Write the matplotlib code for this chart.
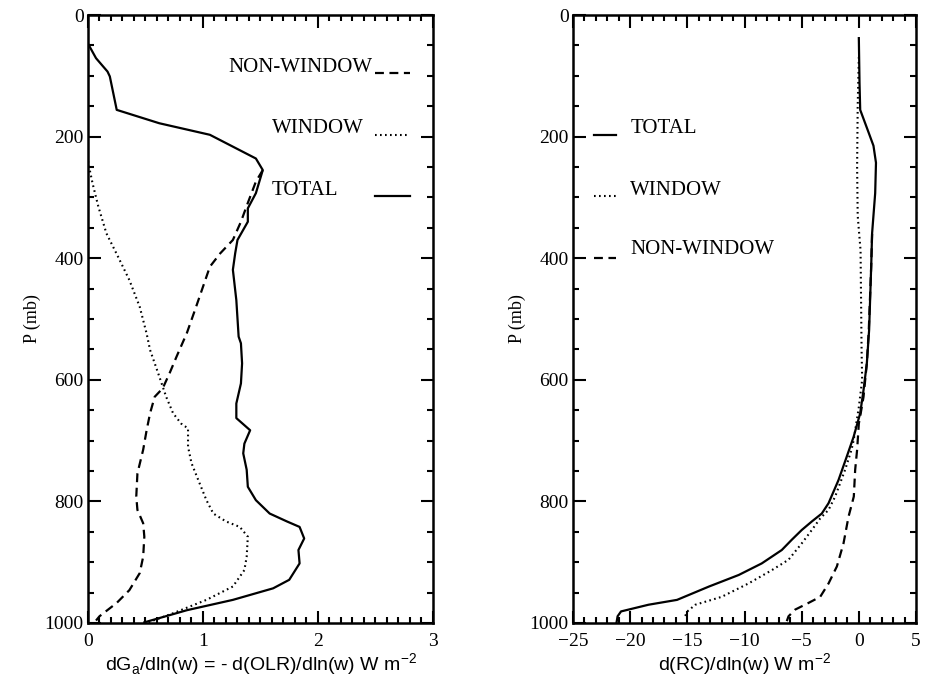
import numpy as np
import matplotlib
matplotlib.use("Agg")
import matplotlib.pyplot as plt
from matplotlib.ticker import MultipleLocator

# ---- left panel: dGa/dln(w) profiles (x value, pressure mb) ----
left_total_x = [0.0, 0.07, 0.17, 0.19, 0.25, 0.62, 1.06, 1.46, 1.52, 1.46,
                1.39, 1.39, 1.30, 1.28, 1.26, 1.29, 1.31, 1.33, 1.34, 1.33,
                1.29, 1.29, 1.41, 1.36, 1.35, 1.38, 1.39, 1.46, 1.58, 1.73,
                1.84, 1.88, 1.83, 1.84, 1.75, 1.61, 1.26, 0.86, 0.49]
left_total_p = [47, 71, 93, 101, 156, 178, 197, 236, 255, 293,
                318, 340, 370, 392, 419, 469, 529, 540, 573, 606,
                639, 663, 683, 705, 721, 748, 776, 798, 820, 833,
                842, 861, 880, 902, 929, 943, 962, 979, 999]

left_nonwin_x = [1.52, 1.46, 1.39, 1.33, 1.26, 1.15, 1.06, 1.00, 0.94, 0.86,
                 0.77, 0.71, 0.65, 0.58, 0.54, 0.51, 0.48, 0.43, 0.42, 0.43,
                 0.48, 0.49, 0.48, 0.45, 0.36, 0.25, 0.10, 0.07]
left_nonwin_p = [255, 274, 309, 340, 370, 392, 414, 447, 480, 523,
                 562, 589, 614, 628, 655, 683, 715, 754, 792, 814,
                 836, 858, 891, 918, 946, 967, 989, 996]

left_win_x = [0.0, 0.01, 0.04, 0.09, 0.16, 0.26, 0.36, 0.45, 0.51, 0.54,
              0.61, 0.68, 0.74, 0.81, 0.87, 0.87, 0.90, 0.97, 1.03, 1.09,
              1.20, 1.32, 1.39, 1.38, 1.36, 1.26, 1.03, 0.74, 0.51]
left_win_p = [240, 250, 277, 315, 359, 397, 436, 480, 524, 551,
              589, 628, 655, 672, 680, 710, 737, 770, 798, 820,
              833, 842, 858, 891, 913, 940, 962, 984, 1000]

# ---- right panel: d(RC)/dln(w) profiles ----
right_total_x = [0.0, 0.06, 0.12, 0.87, 1.28, 1.50, 1.43, 1.16, 1.08, 0.90,
                 0.70, 0.41, 0.12, -0.46, -1.05, -1.78, -2.65, -3.24, -4.11, -4.99,
                 -5.86, -6.74, -8.49, -10.5, -13.1, -15.9, -18.4, -20.8, -21.1, -21.2]
right_total_p = [38, 112, 156, 194, 215, 243, 293, 359, 414, 518,
                 573, 617, 655, 694, 726, 765, 803, 820, 833, 847,
                 863, 880, 902, 921, 940, 962, 970, 981, 989, 1000]

right_win_x = [0.0, -0.1, -0.15, -0.1, 0.15, 0.24, 0.29, 0.0, -0.45, -0.64,
               -1.2, -2.07, -2.65, -3.38, -4.11, -4.99, -6.15, -7.6, -9.65, -12.0,
               -14.3, -15.0, -15.2]
right_win_p = [69, 150, 250, 330, 387, 551, 600, 645, 699, 715,
               748, 792, 814, 828, 847, 869, 896, 913, 935, 957,
               970, 981, 989]

right_nonwin_x = [1.16, 1.08, 0.87, 0.70, 0.41, 0.12, 0.0, -0.15, -0.32, -0.44,
                  -0.55, -0.90, -1.34, -1.92, -2.65, -3.38, -4.40, -5.57, -6.15, -6.30]
right_nonwin_p = [360, 414, 518, 573, 628, 660, 672, 715, 748, 792,
                  800, 825, 869, 907, 935, 957, 967, 978, 989, 997]

DASH = (0, (4, 2.5))
DOT = (0, (0.8, 1.6))
serif = "Liberation Serif"

fig = plt.figure(figsize=(9.26, 6.77), dpi=100)
ax1 = fig.add_axes([0.095, 0.0798, 0.3726, 0.898])
ax2 = fig.add_axes([0.6188, 0.0798, 0.3704, 0.898])

ax1.plot(left_total_x, left_total_p, color="black", lw=1.6)
ax1.plot(left_nonwin_x, left_nonwin_p, color="black", lw=1.6, linestyle=DASH)
ax1.plot(left_win_x, left_win_p, color="black", lw=1.5, linestyle=DOT)

ax2.plot(right_total_x, right_total_p, color="black", lw=1.6)
ax2.plot(right_nonwin_x, right_nonwin_p, color="black", lw=1.6, linestyle=DASH)
ax2.plot(right_win_x, right_win_p, color="black", lw=1.5, linestyle=DOT)

# legend keys drawn in data space like the original figure
ax1.text(2.47, 87, "NON-WINDOW", ha="right", va="center", fontsize=15, family=serif)
ax1.plot([2.5, 2.8], [95, 95], color="black", lw=1.6, linestyle=DASH)
ax1.text(1.6, 186, "WINDOW", ha="left", va="center", fontsize=15, family=serif)
ax1.plot([2.5, 2.8], [197, 197], color="black", lw=1.5, linestyle=DOT)
ax1.text(1.6, 288, "TOTAL", ha="left", va="center", fontsize=15, family=serif)
ax1.plot([2.5, 2.8], [298, 298], color="black", lw=1.6)

ax2.plot([-23.2, -21.2], [197, 197], color="black", lw=1.6)
ax2.text(-20.0, 186, "TOTAL", ha="left", va="center", fontsize=15, family=serif)
ax2.plot([-23.2, -21.2], [298, 298], color="black", lw=1.5, linestyle=DOT)
ax2.text(-20.0, 288, "WINDOW", ha="left", va="center", fontsize=15, family=serif)
ax2.plot([-23.2, -21.2], [400, 400], color="black", lw=1.6, linestyle=DASH)
ax2.text(-20.0, 386, "NON-WINDOW", ha="left", va="center", fontsize=15, family=serif)

for ax in (ax1, ax2):
    ax.set_ylim(1000, 0)
    ax.yaxis.set_major_locator(MultipleLocator(200))
    ax.yaxis.set_minor_locator(MultipleLocator(50))
    ax.tick_params(which="both", direction="in", top=True, right=True, width=1.5)
    ax.tick_params(which="major", length=9, labelsize=14)
    ax.tick_params(axis="x", which="major", pad=7)
    ax.tick_params(axis="y", which="major", pad=3)
    ax.tick_params(which="minor", length=4.5)
    for s in ax.spines.values():
        s.set_linewidth(1.8)
    ax.set_ylabel("P (mb)", fontsize=13, family=serif, labelpad=3)

ax1.set_xlim(0, 3)
ax1.xaxis.set_major_locator(MultipleLocator(1))
ax1.xaxis.set_minor_locator(MultipleLocator(0.1))
ax1.set_xlabel(r"dG$_\mathregular{a}$/dln(w) = - d(OLR)/dln(w) W m$^\mathregular{-2}$",
               fontsize=14, family="Liberation Sans", labelpad=1)

ax2.set_xlim(-25, 5)
ax2.xaxis.set_major_locator(MultipleLocator(5))
ax2.xaxis.set_minor_locator(MultipleLocator(1))
ax2.set_xlabel(r"d(RC)/dln(w) W m$^\mathregular{-2}$", fontsize=14,
               family="Liberation Sans", labelpad=1)

for ax in (ax1, ax2):
    for lab in ax.get_xticklabels() + ax.get_yticklabels():
        lab.set_family(serif)

fig.savefig("out.png", dpi=100)
